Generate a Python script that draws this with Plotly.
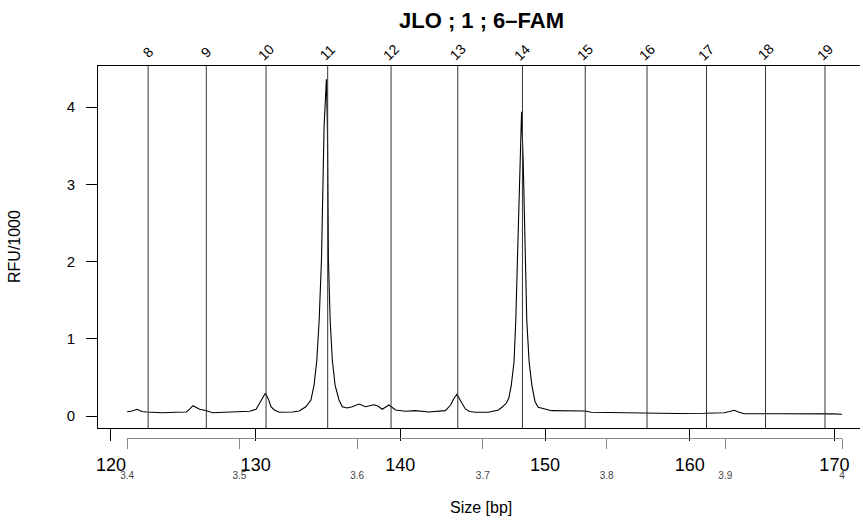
import plotly.graph_objects as go

# Electropherogram trace: fragment size (bp) and signal (RFU / 1000)
size_bp = [
    121.12, 121.45, 121.81, 122.13, 122.46, 123.03, 123.58, 124.41, 125.21, 125.44,
    125.67, 125.90, 126.13, 126.59, 127.04, 127.85, 128.88, 129.57, 130.03, 130.33,
    130.67, 130.88, 131.06, 131.29, 131.63, 132.55, 133.01, 133.47, 133.82, 134.04,
    134.23, 134.39, 134.55, 134.73, 134.89, 134.96, 135.03, 135.15, 135.30, 135.49,
    135.76, 135.99, 136.32, 136.68, 137.14, 137.60, 137.83, 138.17, 138.45, 138.75,
    139.21, 139.67, 140.36, 141.04, 141.96, 142.65, 143.11, 143.48, 143.68, 143.91,
    144.16, 144.49, 144.78, 145.18, 146.09, 146.78, 147.05, 147.33, 147.50, 147.67,
    147.86, 147.98, 148.09, 148.26, 148.38, 148.49, 148.62, 148.74, 148.90, 149.09,
    149.31, 149.53, 150.45, 151.60, 152.75, 153.20, 155.04, 156.88, 159.17, 161.01,
    162.39, 162.75, 163.07, 163.37, 163.76, 166.05, 167.43, 169.27, 169.84, 170.53,
]
rfu_k = [
    0.056, 0.065, 0.087, 0.058, 0.052, 0.045, 0.043, 0.048, 0.052, 0.090,
    0.133, 0.110, 0.087, 0.069, 0.043, 0.048, 0.052, 0.061, 0.087, 0.180,
    0.294, 0.220, 0.120, 0.078, 0.048, 0.052, 0.065, 0.120, 0.207, 0.400,
    0.725, 1.240, 2.020, 3.745, 4.359, 3.745, 2.020, 1.240, 0.725, 0.400,
    0.207, 0.120, 0.104, 0.120, 0.155, 0.120, 0.130, 0.146, 0.130, 0.087,
    0.142, 0.078, 0.061, 0.069, 0.052, 0.058, 0.069, 0.142, 0.220, 0.281,
    0.194, 0.091, 0.058, 0.048, 0.048, 0.078, 0.117, 0.168, 0.233, 0.400,
    0.703, 1.240, 1.997, 3.310, 3.939, 3.310, 1.997, 1.240, 0.703, 0.400,
    0.185, 0.113, 0.069, 0.065, 0.065, 0.048, 0.041, 0.035, 0.032, 0.035,
    0.043, 0.058, 0.074, 0.052, 0.030, 0.030, 0.032, 0.035, 0.028, 0.022,
]

# Allelic ladder: allele names and their sizes (bp)
allele_names = ["8", "9", "10", "11", "12", "13", "14", "15", "16", "17", "18", "19"]
allele_bp = [122.57, 126.59, 130.72, 134.98, 139.36, 143.97,
             148.44, 152.78, 157.05, 161.16, 165.24, 169.35]

# Size axis ticks
size_ticks = [120, 130, 140, 150, 160, 170]
# Scan/time axis (thousands) and where each tick falls on the size scale
time_labels = ["3.4", "3.5", "3.6", "3.7", "3.8", "3.9", "4"]
time_at_bp = [121.12, 128.88, 137.02, 145.70, 154.26, 162.46, 170.53]

rfu_ticks = [0, 1, 2, 3, 4]

title_text = "JLO ; 1 ; 6\u2013FAM"
FONT = "Liberation Sans, Arial, sans-serif"

x_range = [119.105, 171.77]
y_range = [-0.1553, 4.531]

fig = go.Figure()

fig.add_trace(go.Scatter(
    x=size_bp, y=rfu_k, mode="lines",
    line=dict(color="black", width=1.1),
    hoverinfo="skip", showlegend=False,
))

# empty trace so the secondary (time) axis gets drawn
fig.add_trace(go.Scatter(x=[], y=[], xaxis="x2", yaxis="y", showlegend=False))

# vertical allele marker lines spanning the plot height
for b in allele_bp:
    fig.add_shape(type="line", xref="x", yref="y domain",
                  x0=b, x1=b, y0=0, y1=1,
                  line=dict(color="#333333", width=1))

# rotated allele names above the frame
for name, b in zip(allele_names, allele_bp):
    fig.add_annotation(x=b, xref="x", y=1, yref="y domain",
                       text=name, showarrow=False, textangle=-45,
                       yanchor="middle", xanchor="center", yshift=14,
                       font=dict(family=FONT, size=14, color="black"))

def frac(v):
    return (v - x_range[0]) / (x_range[1] - x_range[0])

fig.update_layout(
    width=863, height=523,
    margin=dict(l=98, r=0, t=66, b=85),
    plot_bgcolor="rgba(0,0,0,0)", paper_bgcolor="white",
    font=dict(family=FONT, color="black"),
    xaxis=dict(
        range=x_range, domain=[0, 1], anchor="y",
        showgrid=False, zeroline=False,
        showline=True, linecolor="black", linewidth=1, mirror=True,
        tickmode="array", tickvals=size_ticks,
        ticks="outside", ticklen=12, tickcolor="black", tickwidth=1,
        ticklabelstandoff=8,
        tickfont=dict(family=FONT, size=18, color="black"),
    ),
    xaxis2=dict(
        range=[time_at_bp[0], time_at_bp[-1]],
        domain=[frac(time_at_bp[0]), frac(time_at_bp[-1])],
        anchor="free", position=0,
        showgrid=False, zeroline=False,
        showline=True, linecolor="#8a8a8a", linewidth=1,
        tickmode="array", tickvals=time_at_bp, ticktext=time_labels,
        ticks="outside", ticklen=10, tickcolor="#8a8a8a", tickwidth=1,
        ticklabelstandoff=18,
        tickfont=dict(family=FONT, size=10, color="#444444"),
    ),
    yaxis=dict(
        range=y_range, domain=[10 / 372, 1],
        showgrid=False, zeroline=False,
        showline=True, linecolor="black", linewidth=1, mirror=False,
        tickmode="array", tickvals=rfu_ticks,
        ticks="outside", ticklen=11, tickcolor="black", tickwidth=1,
        ticklabelstandoff=8,
        tickfont=dict(family=FONT, size=15, color="black"),
    ),
)

fig.add_annotation(text="<b>" + title_text + "</b>", xref="paper", yref="paper",
                   x=0.503, y=1, yshift=46, showarrow=False,
                   xanchor="center", yanchor="middle",
                   font=dict(family=FONT, size=22, color="black"))
fig.add_annotation(text="Size [bp]", xref="paper", yref="paper",
                   x=0.503, y=0, yshift=-69, showarrow=False,
                   xanchor="center", yanchor="middle",
                   font=dict(family=FONT, size=16, color="black"))
fig.add_annotation(text="RFU/1000", xref="paper", yref="paper",
                   x=0, xshift=-84, y=(10 / 372 + 1) / 2, showarrow=False,
                   textangle=-90, xanchor="center", yanchor="middle",
                   font=dict(family=FONT, size=16, color="black"))

fig.write_html("out.html")
